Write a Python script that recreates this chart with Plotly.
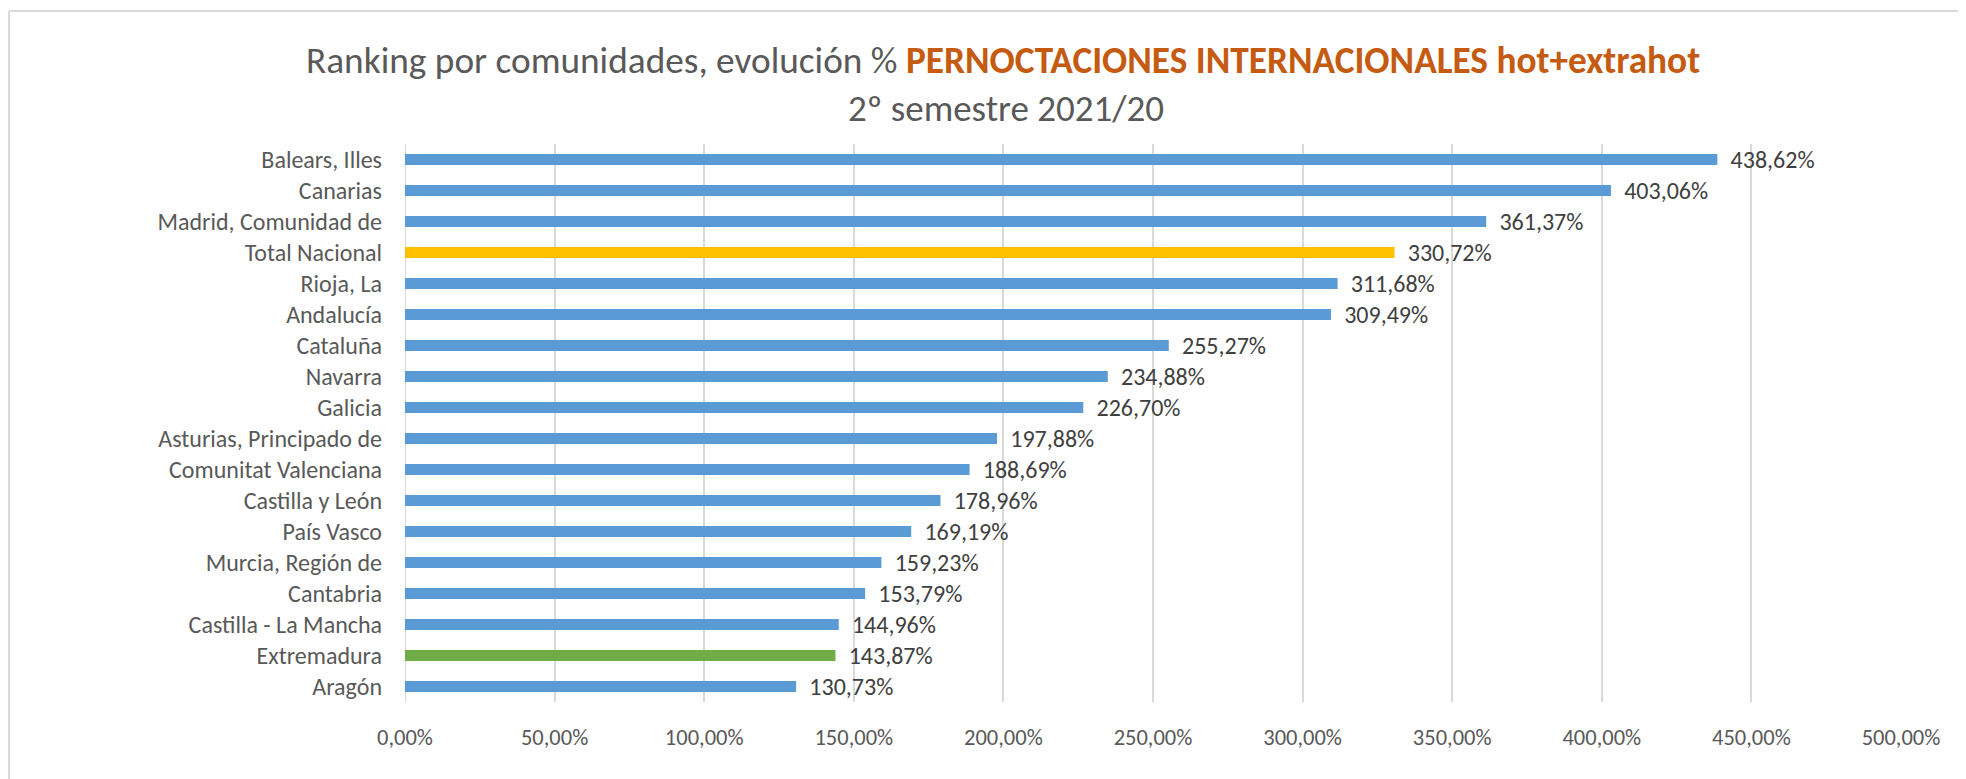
import plotly.graph_objects as go

categories = [
    "Balears, Illes", "Canarias", "Madrid, Comunidad de", "Total Nacional",
    "Rioja, La", "Andalucía", "Cataluña", "Navarra", "Galicia",
    "Asturias, Principado de", "Comunitat Valenciana", "Castilla y León",
    "País Vasco", "Murcia, Región de", "Cantabria", "Castilla - La Mancha",
    "Extremadura", "Aragón",
]
values = [
    438.62, 403.06, 361.37, 330.72, 311.68, 309.49, 255.27, 234.88, 226.70,
    197.88, 188.69, 178.96, 169.19, 159.23, 153.79, 144.96, 143.87, 130.73,
]
x_ticks = [0, 50, 100, 150, 200, 250, 300, 350, 400, 450, 500]

BLUE = "#5B9BD5"
YELLOW = "#FFC000"
GREEN = "#70AD47"
colors = []
for c in categories:
    if c == "Total Nacional":
        colors.append(YELLOW)
    elif c == "Extremadura":
        colors.append(GREEN)
    else:
        colors.append(BLUE)

labels = ["\u2009\u00a0" + f"{v:.2f}".replace(".", ",") + "%" for v in values]
tick_text = [f"{t:.2f}".replace(".", ",") + "%" for t in x_ticks]

FONT = "Calibri, Carlito, Lato, sans-serif"

# page body has an 8px margin: work in reference pixels shifted by 8
OFF = 8
W, H = 1966 - OFF, 779 - OFF
L, T = 405 - OFF, 144 - OFF
R = W - (1901 - OFF)
B = H - (702 - OFF)

fig = go.Figure(
    go.Bar(
        x=values,
        y=categories,
        orientation="h",
        marker=dict(color=colors, line=dict(width=0)),
        text=labels,
        textposition="outside",
        constraintext="none",
        textfont=dict(family=FONT, size=24, color="#404040"),
        cliponaxis=False,
        hoverinfo="skip",
    )
)

fig.update_layout(
    width=W,
    height=H,
    margin=dict(l=L, r=R, t=T, b=B, pad=0, autoexpand=False),
    paper_bgcolor="white",
    plot_bgcolor="white",
    bargap=0.64,
    showlegend=False,
    font=dict(family=FONT, color="#595959"),
)

fig.update_xaxes(
    range=[0, 500],
    tickvals=x_ticks,
    ticktext=tick_text,
    showgrid=True,
    gridcolor="#D9D9D9",
    gridwidth=2,
    zeroline=False,
    showline=False,
    ticks="",
    tickfont=dict(family=FONT, size=22.5, color="#595959"),
    ticklabelstandoff=19,
    automargin=False,
    fixedrange=True,
)
fig.update_yaxes(
    categoryorder="array",
    categoryarray=categories[::-1],
    showgrid=False,
    zeroline=False,
    showline=False,
    ticks="",
    tickfont=dict(family=FONT, size=24, color="#595959"),
    ticklabelstandoff=22,
    automargin=False,
    fixedrange=True,
)

# vertical line at zero (category axis line)
fig.add_shape(type="line", xref="x", yref="paper", x0=0, x1=0, y0=0, y1=1,
              line=dict(color="#D9D9D9", width=2), layer="below")

plot_w = W - L - R
plot_h = H - T - B
def px_to_paper_x(px):
    return (px - OFF - L) / plot_w
def px_to_paper_y(py):
    return (H - B - (py - OFF)) / plot_h

# Chart border (top & left edges visible)
fig.add_shape(type="line", xref="paper", yref="paper",
              x0=px_to_paper_x(9), x1=px_to_paper_x(1980),
              y0=px_to_paper_y(11), y1=px_to_paper_y(11),
              line=dict(color="#D9D9D9", width=2))
fig.add_shape(type="line", xref="paper", yref="paper",
              x0=px_to_paper_x(9), x1=px_to_paper_x(9),
              y0=px_to_paper_y(11), y1=px_to_paper_y(800),
              line=dict(color="#D9D9D9", width=2))

title1 = ("Ranking por comunidades, evolución % "
          "<b><span style='color:#C55A11'>PERNOCTACIONES INTERNACIONALES hot+extrahot</span></b>")
title2 = "2º semestre 2021/20"

fig.add_annotation(text=title1, xref="paper", yref="paper",
                   x=px_to_paper_x(1003), y=px_to_paper_y(60),
                   xanchor="center", yanchor="middle", showarrow=False,
                   font=dict(family=FONT, size=37.3, color="#595959"))
fig.add_annotation(text=title2, xref="paper", yref="paper",
                   x=px_to_paper_x(1006), y=px_to_paper_y(108),
                   xanchor="center", yanchor="middle", showarrow=False,
                   font=dict(family=FONT, size=37, color="#595959"))

fig.write_html("out.html")
